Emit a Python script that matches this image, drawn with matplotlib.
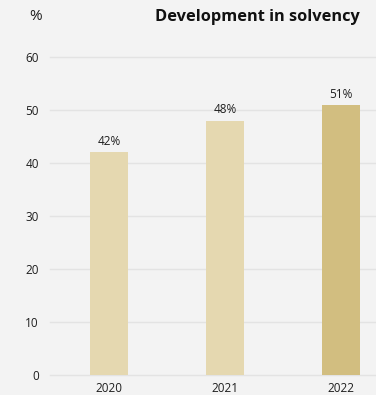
import matplotlib
matplotlib.use("Agg")
import matplotlib.pyplot as plt

years = ["2020", "2021", "2022"]
solvency = [42, 48, 51]
bar_colors = ["#e5d8b0", "#e5d8b0", "#d2be80"]
y_ticks = [0, 10, 20, 30, 40, 50, 60]

plt.rcParams["font.family"] = ["Open Sans", "DejaVu Sans"]
text_color = "#1e1e1e"
bg = "#f3f3f3"

fig = plt.figure(figsize=(3.76, 3.95), dpi=100, facecolor=bg)
ax = fig.add_axes([0.133, 0.0506, 0.867, 0.805], facecolor=bg)

x = list(range(len(years)))
bars = ax.bar(x, solvency, width=0.328, color=bar_colors, zorder=3)
for b, v in zip(bars, solvency):
    ax.annotate(f"{v}%", (b.get_x() + b.get_width() / 2, v),
                xytext=(0, 3), textcoords="offset points",
                ha="center", va="bottom", fontsize=8.5, color=text_color)

ax.set_xlim(-0.509, 2.30)
ax.set_ylim(0, 60)
ax.set_yticks(y_ticks)
ax.set_xticks(x)
ax.set_xticklabels(years)
for t in y_ticks:
    ax.axhline(t, color="#e3e3e3", linewidth=1.0, zorder=0, clip_on=False)
for s in ax.spines.values():
    s.set_visible(False)
ax.tick_params(axis="both", length=0, labelsize=8.5, colors=text_color)
ax.tick_params(axis="y", pad=8)
ax.tick_params(axis="x", pad=5)

fig.text(42 / 376, 1 - 17 / 395, "%", ha="right", va="center",
         fontsize=11, color=text_color)
fig.text(360 / 376, 1 - 17 / 395, "Development in solvency", ha="right",
         va="center", fontsize=11.8, fontweight="bold", color="#111111")

fig.savefig("out.png", dpi=100, facecolor=bg)
